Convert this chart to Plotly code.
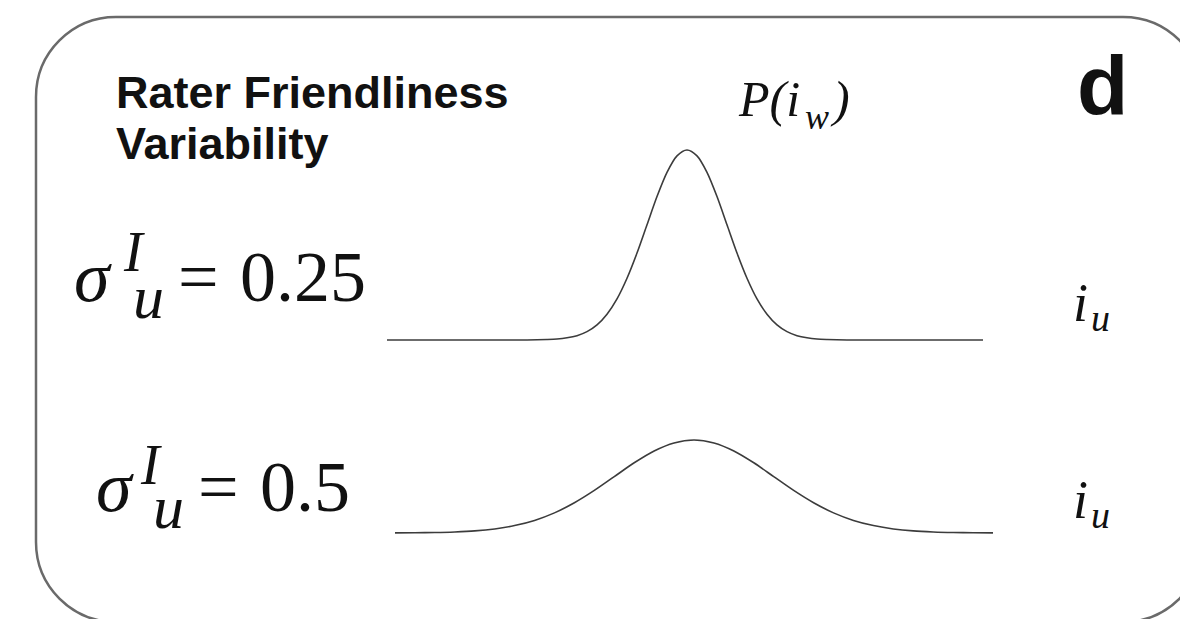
import plotly.graph_objects as go

W, H = 1180, 619

# ---- data ----
top_x = [-1.875, -1.0, -0.875, -0.8125, -0.75, -0.6875, -0.625, -0.5625, -0.5, -0.4375,
         -0.375, -0.3125, -0.25, -0.1875, -0.125, -0.0625, 0.0, 0.0625, 0.125, 0.1875,
         0.25, 0.3125, 0.375, 0.4375, 0.5, 0.5625, 0.625, 0.6875, 0.75, 0.8125, 0.875, 1.0, 1.85]
top_y = [0.0, 0.0, 0.004, 0.008, 0.018, 0.036, 0.070, 0.127, 0.217, 0.346,
         0.520, 0.732, 0.970, 1.208, 1.412, 1.551, 1.600, 1.551, 1.412, 1.208,
         0.970, 0.732, 0.520, 0.346, 0.217, 0.127, 0.070, 0.036, 0.018, 0.008, 0.004, 0.0, 0.0]

bot_x = [-1.875, -1.75, -1.625, -1.5, -1.375, -1.25, -1.125, -1.0, -0.875, -0.75,
         -0.625, -0.5, -0.375, -0.25, -0.125, 0.0, 0.125, 0.25, 0.375, 0.5,
         0.625, 0.75, 0.875, 1.0, 1.125, 1.25, 1.375, 1.5, 1.625, 1.75, 1.875]
bot_y = [0.001, 0.002, 0.004, 0.009, 0.018, 0.035, 0.064, 0.108, 0.173, 0.260,
         0.366, 0.485, 0.604, 0.706, 0.775, 0.800, 0.775, 0.706, 0.604, 0.485,
         0.366, 0.260, 0.173, 0.108, 0.064, 0.035, 0.018, 0.009, 0.004, 0.002, 0.001]

sigma_labels = ["0.25", "0.5"]
title_lines = ["Rater Friendliness", "Variability"]
panel_letter = "d"


def px(x):
    return x / W


def py(y):
    return 1 - y / H


LINE = "#3c3c3c"
fig = go.Figure()
fig.add_trace(go.Scatter(x=top_x, y=top_y, mode="lines", xaxis="x", yaxis="y",
                         line=dict(color=LINE, width=1.6, shape="spline", smoothing=0.8),
                         hoverinfo="skip", showlegend=False))
fig.add_trace(go.Scatter(x=bot_x, y=bot_y, mode="lines", xaxis="x2", yaxis="y2",
                         line=dict(color=LINE, width=1.6, shape="spline", smoothing=0.8),
                         hoverinfo="skip", showlegend=False))

ax = dict(visible=False, showgrid=False, zeroline=False, fixedrange=True)
fig.update_layout(
    width=W, height=H, margin=dict(l=0, r=0, t=0, b=0),
    paper_bgcolor="white", plot_bgcolor="rgba(0,0,0,0)",
    xaxis=dict(ax, domain=[px(387), px(983)], range=[-1.875, 1.85]),
    yaxis=dict(ax, domain=[py(345.9), py(144.1)], range=[-0.05, 1.65]),
    xaxis2=dict(ax, domain=[px(395), px(993)], range=[-1.875, 1.875], anchor="y2"),
    yaxis2=dict(ax, domain=[py(538.8), py(434.2)], range=[-0.05, 0.85], anchor="x2"),
)

SANS = "Liberation Sans, Arial, sans-serif"
SERIF = "Liberation Serif, Times New Roman, serif"


def ann(text, x_left, baseline, size, family, weight="normal", style="normal"):
    asc = 0.905 if family == SANS else 0.891
    fig.add_annotation(text=text, xref="paper", yref="paper",
                       x=px(x_left), y=py(baseline - 1 - asc * size),
                       xanchor="left", yanchor="top", showarrow=False,
                       font=dict(family=family, size=size, color="#111111",
                                 weight=weight, style=style))


# title
ann(title_lines[0], 114, 107, 45, SANS, weight="bold")
ann(title_lines[1], 114, 158, 45, SANS, weight="bold")
# panel letter
ann(panel_letter, 1075, 114, 84, SANS, weight="bold")
# P(i_w)
ann("P(i", 736, 115, 50, SERIF, style="italic")
ann("w", 803, 128, 36, SERIF, style="italic")
ann(")", 828, 115, 50, SERIF, style="italic")

# sigma labels
rows = [dict(sx=72, base=300, ix=121, ib=270, ux=131, ub=317, ex=176, nx=238),
        dict(sx=94, base=510, ix=138, ib=483, ux=151, ub=527, ex=196, nx=258)]
for lab, r in zip(sigma_labels, rows):
    ann("σ", r["sx"], r["base"], 72, SERIF, style="italic")
    ann("I", r["ix"], r["ib"], 56, SERIF, style="italic")
    ann("u", r["ux"], r["ub"], 62, SERIF, style="italic")
    ann("=", r["ex"], r["base"], 72, SERIF)
    ann(lab, r["nx"], r["base"], 72, SERIF)

# i_u axis labels
for b in (320, 517):
    ann("i", 1071, b, 54, SERIF, style="italic")
    ann("u", 1089, b + 10, 38, SERIF, style="italic")

# rounded frame
L, T, R, B, r = 36, 17, 1203, 622, 80
k = 0.5523 * r
pts = (f"M {px(L + r)},{py(T)} L {px(R - r)},{py(T)} "
       f"C {px(R - r + k)},{py(T)} {px(R)},{py(T + r - k)} {px(R)},{py(T + r)} "
       f"L {px(R)},{py(B - r)} "
       f"C {px(R)},{py(B - r + k)} {px(R - r + k)},{py(B)} {px(R - r)},{py(B)} "
       f"L {px(L + r)},{py(B)} "
       f"C {px(L + r - k)},{py(B)} {px(L)},{py(B - r + k)} {px(L)},{py(B - r)} "
       f"L {px(L)},{py(T + r)} "
       f"C {px(L)},{py(T + r - k)} {px(L + r - k)},{py(T)} {px(L + r)},{py(T)} Z")
fig.add_shape(type="path", path=pts, xref="paper", yref="paper",
              line=dict(color="#6a6a6a", width=2.5), fillcolor="rgba(0,0,0,0)")

fig.write_html("out.html", config=dict(displayModeBar=False),
               post_script="document.body.style.margin='0';document.body.style.overflow='hidden';")
